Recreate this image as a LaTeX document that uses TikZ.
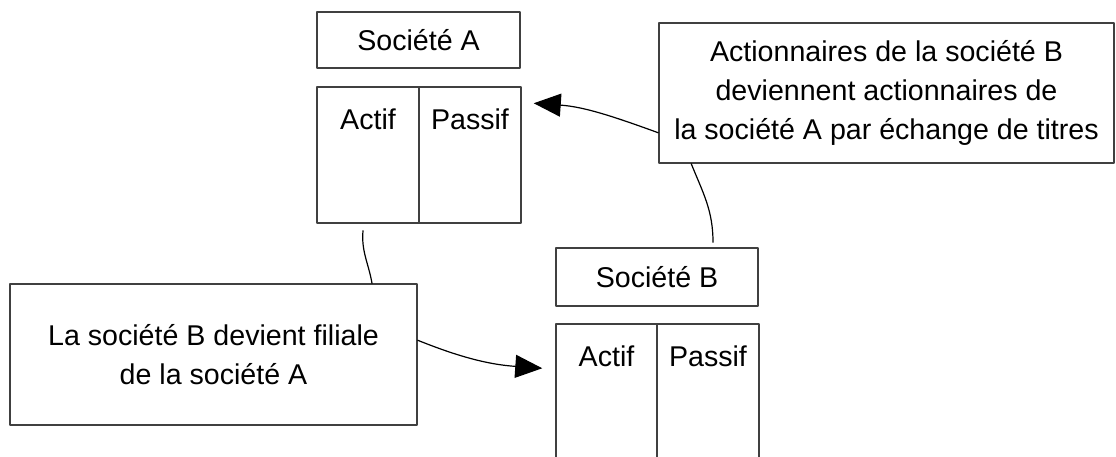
\documentclass[tikz,border=0pt]{standalone}
\usepackage{fontspec}
\setmainfont{Liberation Sans}
\usetikzlibrary{arrows.meta}
\usetikzlibrary{calc}

\begin{document}
\begin{tikzpicture}[x=1pt,y=-1pt,line cap=round,line join=round,
    box/.style={draw=black!75,line width=1.5pt,rectangle,inner sep=0pt,align=center},
    col/.style={box,minimum width=102pt,minimum height=146pt},
    lab/.style={anchor=center,yshift=-33pt,inner sep=0pt},
    link/.style={line width=1.2pt,black},
    >={Triangle[length=27pt,width=23pt]}]
        \useasboundingbox (0,0) rectangle (1116,456);
        \clip (0,0) rectangle (1116,456);
        \fontsize{28.6}{39}\selectfont
        % societe A
        \node[box,minimum width=203pt,minimum height=56pt] (socA) at (418.5,40) {Société A};
        \node[col,minimum height=136pt,label={[lab]north:Actif}] (actifA) at (368,155) {};
        \node[col,minimum height=136pt,label={[lab]north:Passif}] (passifA) at (470,155) {};
        % societe B
        \node[box,minimum width=202pt,minimum height=58pt] (socB) at (657,277) {Société B};
        \node[col,minimum width=101pt,label={[lab]north:Actif}] (actifB) at (606.5,397) {};
        \node[col,minimum width=102pt,label={[lab]north:Passif}] (passifB) at (708,397) {};
        % commentaires
        \node[box,minimum width=407pt,minimum height=141pt] (filiale) at (213.5,354.5)
            {La société B devient filiale\\de la société A};
        \node[box,minimum width=455pt,minimum height=140pt] (echange) at (886.5,93)
            {Actionnaires de la société B\\deviennent actionnaires de\\la société A par échange de titres};
        % liens
        \draw[link,->] ($(echange.south west)+(0pt,31pt)$) to[out=160,in=-4] ($(passifA.north east)+(12pt,-17pt)$);
        \draw[link] ($(echange.south west)+(33pt,0pt)$) to[out=-68,in=90] ($(socB.north)+(56pt,5pt)$);
        \draw[link] ($(actifA.south)+(-5pt,-7pt)$) to[out=-95,in=100] ($(filiale.north)+(158.5pt,0pt)$);
        \draw[link,->] ($(filiale.north east)+(0pt,-57pt)$) to[out=-22,in=176] ($(actifB.north west)+(-13pt,-45pt)$);
\end{tikzpicture}
\end{document}
